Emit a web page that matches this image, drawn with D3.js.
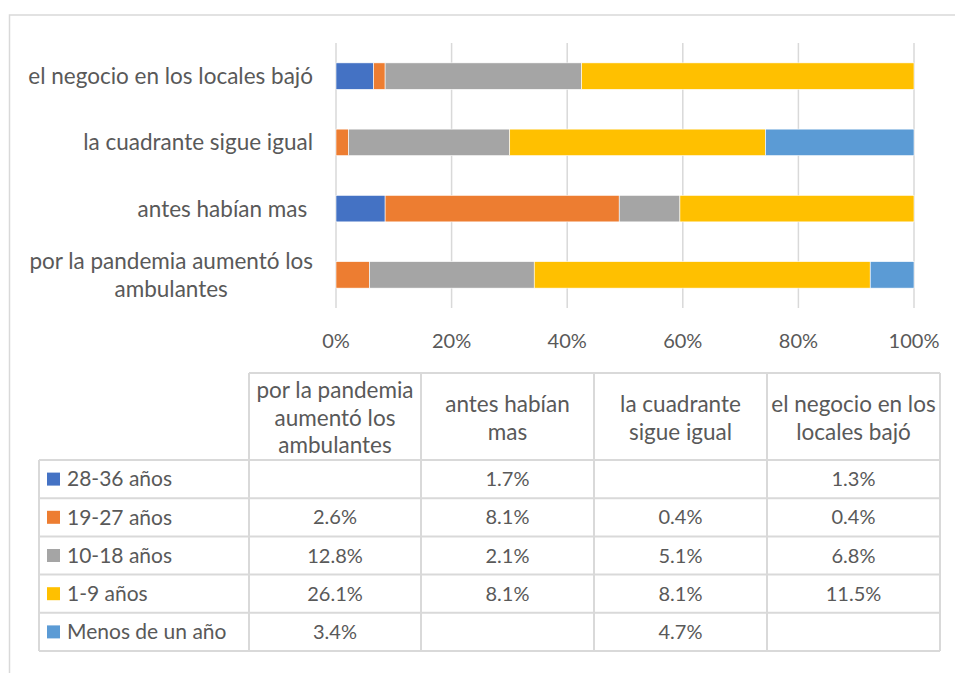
<!DOCTYPE html>
<html>
<head>
<meta charset="utf-8">
<script src="https://cdn.jsdelivr.net/npm/d3@7"></script>
<style>
  body { margin: 0; background: #fff; }
  svg text { font-family: Lato, "Noto Sans", sans-serif; fill: #595959; }
</style>
</head>
<body>
<svg id="chart" width="955" height="673"></svg>
<script>
// categories in table order (bars are drawn bottom -> top in this order)
var categories = ["por la pandemia aumentó los ambulantes", "antes habían mas ", "la cuadrante sigue igual", "el negocio en los locales bajó"];
var headerLines = [["por la pandemia", "aumentó los", "ambulantes"], ["antes habían", "mas"], ["la cuadrante", "sigue igual"], ["el negocio en los", "locales bajó"]];
var axisLabelLines = [["por la pandemia aumentó los", "ambulantes"], ["antes habían mas "], ["la cuadrante sigue igual"], ["el negocio en los locales bajó"]];

var seriesNames = ["28-36 años", "19-27 años", "10-18 años", "1-9 años", "Menos de un año"];
var seriesColors = ["#4472C4", "#ED7D31", "#A5A5A5", "#FFC000", "#5B9BD5"];

// values (%) per category, same order as categories
var anios28_36 = [null, 1.7, null, 1.3];
var anios19_27 = [2.6, 8.1, 0.4, 0.4];
var anios10_18 = [12.8, 2.1, 5.1, 6.8];
var anios1_9 = [26.1, 8.1, 8.1, 11.5];
var menosUnAnio = [3.4, null, 4.7, null];

var xTicks = [0, 0.2, 0.4, 0.6, 0.8, 1];

var seriesValues = [anios28_36, anios19_27, anios10_18, anios1_9, menosUnAnio];

var rows = categories.map(function(c, i) {
  var r = {cat: c};
  seriesNames.forEach(function(s, j) { r[s] = seriesValues[j][i] || 0; });
  return r;
});

var textSize = "22.5px", numSize = "20px", nameSize = "21px";

var svg = d3.select("#chart");

// outer chart border
svg.append("path")
  .attr("d", "M9.5,673 V15 H955")
  .attr("fill", "none")
  .attr("stroke", "#D9D9D9")
  .attr("stroke-width", 1.5);

var plot = {left: 336, right: 914, top: 43, bottom: 308};

var x = d3.scaleLinear().domain([0, 1]).range([plot.left, plot.right]);
var y = d3.scaleBand()
  .domain(categories.slice().reverse())
  .range([plot.top, plot.bottom])
  .paddingInner(0.6)
  .paddingOuter(0.3);

// gridlines
svg.append("g")
  .selectAll("line")
  .data(xTicks)
  .enter().append("line")
  .attr("x1", function(d) { return x(d); })
  .attr("x2", function(d) { return x(d); })
  .attr("y1", plot.top)
  .attr("y2", plot.bottom)
  .attr("stroke", "#D9D9D9")
  .attr("stroke-width", 1.5);

// stacked bars (100%)
var stack = d3.stack().keys(seriesNames).offset(d3.stackOffsetExpand);
var layers = stack(rows);

svg.append("g")
  .selectAll("g")
  .data(layers)
  .enter().append("g")
  .attr("fill", function(d, i) { return seriesColors[i]; })
  .selectAll("rect")
  .data(function(d) { return d; })
  .enter().append("rect")
  .attr("x", function(d) { return x(d[0]); })
  .attr("width", function(d) { return x(d[1]) - x(d[0]); })
  .attr("y", function(d) { return y(d.data.cat); })
  .attr("height", y.bandwidth())
  .attr("stroke", "#fff")
  .attr("stroke-width", 0.6)
  .style("display", function(d) { return d[1] - d[0] > 0 ? null : "none"; });

// x axis labels
svg.append("g")
  .selectAll("text")
  .data(xTicks)
  .enter().append("text")
  .attr("x", function(d) { return x(d); })
  .attr("y", 341)
  .attr("dy", "0.35em")
  .attr("text-anchor", "middle")
  .style("font-size", numSize)
  .text(d3.format(".0%"));

// category labels (right aligned block, lines centered within block)
var labelRight = 313;
categories.forEach(function(c, i) {
  var lines = axisLabelLines[i];
  var cy = y(c) + y.bandwidth() / 2;
  var g = svg.append("g");
  var texts = lines.map(function(l, k) {
    return g.append("text")
      .attr("y", cy + (k - (lines.length - 1) / 2) * 28)
      .attr("dy", "0.35em")
      .attr("text-anchor", "middle")
      .style("font-size", textSize)
      .style("white-space", "pre")
      .text(l);
  });
  var w = d3.max(texts, function(t) { return t.node().getComputedTextLength(); });
  texts.forEach(function(t) { t.attr("x", labelRight - w / 2); });
});

// data table
var colEdges = [39, 249, 421, 594, 767, 940];
var headerTop = 373, headerBottom = 460, rowH = 38.2;
var tableBottom = headerBottom + rowH * seriesNames.length;
var tbl = svg.append("g");
var border = "#D9D9D9";

// horizontal lines
tbl.append("line").attr("x1", colEdges[1]).attr("x2", colEdges[5])
  .attr("y1", headerTop).attr("y2", headerTop);
d3.range(seriesNames.length + 1).forEach(function(k) {
  var yy = headerBottom + k * rowH;
  tbl.append("line").attr("x1", colEdges[0]).attr("x2", colEdges[5])
    .attr("y1", yy).attr("y2", yy);
});
// vertical lines
colEdges.forEach(function(cx, k) {
  tbl.append("line").attr("x1", cx).attr("x2", cx)
    .attr("y1", k === 0 ? headerBottom : headerTop).attr("y2", tableBottom);
});
tbl.selectAll("line").attr("stroke", border).attr("stroke-width", 2);

// header text
var headerMid = (headerTop + headerBottom) / 2 + 1.5;
headerLines.forEach(function(lines, i) {
  var cx = (colEdges[i + 1] + colEdges[i + 2]) / 2;
  lines.forEach(function(l, k) {
    tbl.append("text")
      .attr("x", cx)
      .attr("y", headerMid + (k - (lines.length - 1) / 2) * 27.5)
      .attr("dy", "0.35em")
      .attr("text-anchor", "middle")
      .style("font-size", textSize)
      .text(l);
  });
});

// rows: legend key + name + values
seriesNames.forEach(function(s, j) {
  var cy = headerBottom + j * rowH + rowH / 2;
  tbl.append("rect")
    .attr("x", 47).attr("y", cy - 6.5)
    .attr("width", 13).attr("height", 13)
    .attr("fill", seriesColors[j]);
  tbl.append("text")
    .attr("x", 67).attr("y", cy)
    .attr("dy", "0.35em")
    .style("font-size", nameSize)
    .text(s);
  seriesValues[j].forEach(function(v, i) {
    if (v == null) return;
    tbl.append("text")
      .attr("x", (colEdges[i + 1] + colEdges[i + 2]) / 2)
      .attr("y", cy)
      .attr("dy", "0.35em")
      .attr("text-anchor", "middle")
      .style("font-size", numSize)
      .text(v.toFixed(1) + "%");
  });
});
</script>
</body>
</html>
